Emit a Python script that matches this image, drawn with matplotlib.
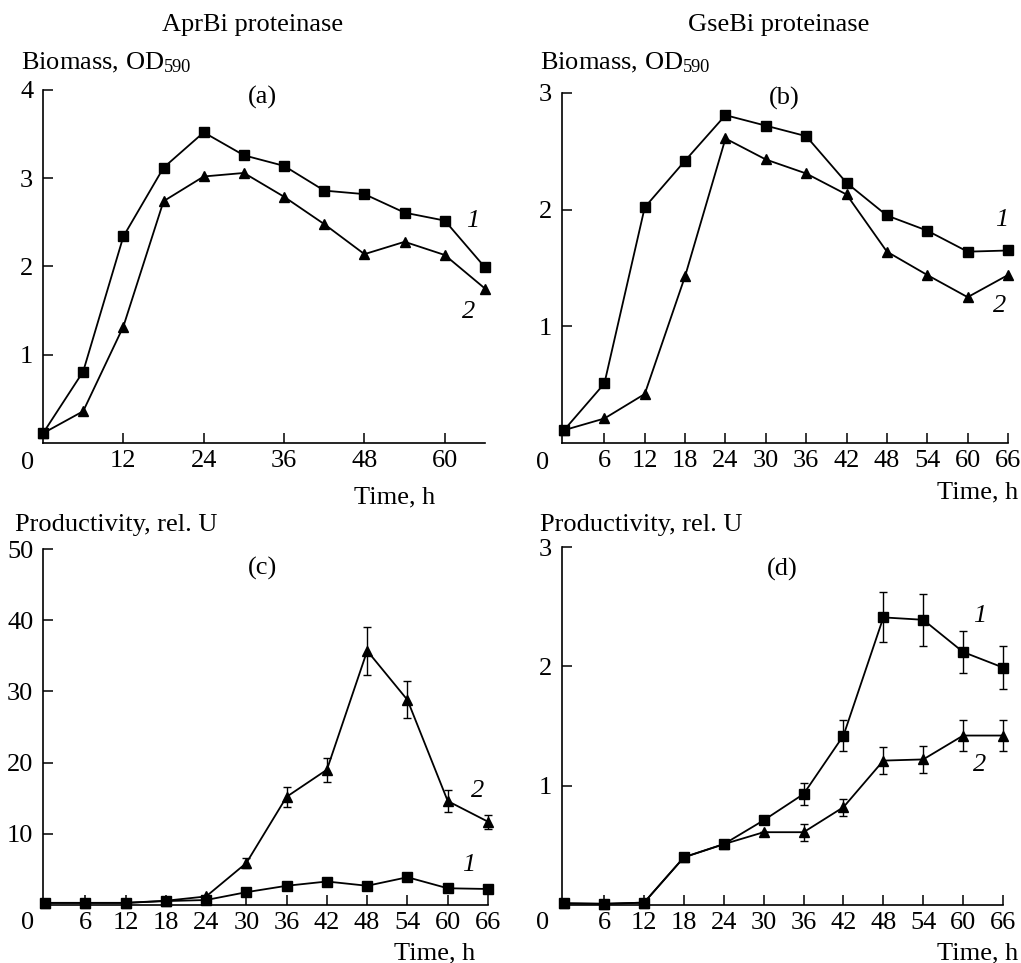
import matplotlib
matplotlib.use("Agg")
import matplotlib.pyplot as plt

plt.rcParams['font.family'] = ['Liberation Serif', 'DejaVu Serif']
plt.rcParams['mathtext.fontset'] = 'custom'
plt.rcParams['mathtext.rm'] = 'Liberation Serif'
plt.rcParams['mathtext.it'] = 'Liberation Serif:italic'

hours = [0, 6, 12, 18, 24, 30, 36, 42, 48, 54, 60, 66]

# (a) AprBi biomass
a_s1 = [0.11, 0.81, 2.34, 3.12, 3.52, 3.26, 3.14, 2.86, 2.82, 2.61, 2.52, 1.99]
a_s2 = [0.11, 0.36, 1.32, 2.74, 3.02, 3.06, 2.79, 2.48, 2.14, 2.28, 2.13, 1.75]
# (b) GseBi biomass
b_s1 = [0.11, 0.51, 2.02, 2.42, 2.81, 2.72, 2.63, 2.23, 1.95, 1.82, 1.64, 1.65]
b_s2 = [0.11, 0.21, 0.42, 1.43, 2.61, 2.43, 2.31, 2.13, 1.64, 1.44, 1.25, 1.44]
# (c) AprBi productivity
c_s1 = [0.3, 0.3, 0.3, 0.55, 0.7, 1.8, 2.7, 3.3, 2.7, 3.9, 2.35, 2.25]
c_s2 = [0.3, 0.3, 0.3, 0.6, 1.2, 5.9, 15.2, 19.0, 35.7, 28.8, 14.6, 11.7]
c_e2 = [0, 0, 0, 0, 0, 0.7, 1.4, 1.7, 3.4, 2.6, 1.5, 1.0]
# (d) GseBi productivity
d_s1 = [0.014, 0.01, 0.02, 0.40, 0.51, 0.71, 0.93, 1.42, 2.41, 2.39, 2.12, 1.99]
d_e1 = [0, 0, 0, 0, 0, 0, 0.09, 0.13, 0.21, 0.22, 0.18, 0.18]
d_s2 = [0.014, 0.01, 0.02, 0.40, 0.51, 0.61, 0.61, 0.82, 1.21, 1.22, 1.42, 1.42]
d_e2 = [0, 0, 0, 0, 0, 0, 0.07, 0.07, 0.11, 0.11, 0.13, 0.13]

FS = 19
fig = plt.figure(figsize=(10.21, 9.63), dpi=100)

W, H = 1021, 963
def rect(l, t, r, b):
    return [l / W, (H - b) / H, (r - l) / W, (b - t) / H]

axa = fig.add_axes(rect(43, 90, 485, 443))
axb = fig.add_axes(rect(562, 93, 1008, 443))
axc = fig.add_axes(rect(43, 549, 488, 905))
axd = fig.add_axes(rect(562, 547, 1003, 905))

def style(ax, xlim, ylim, xticks, yticks):
    ax.set_xlim(*xlim)
    ax.set_ylim(*ylim)
    for s in ['top', 'right']:
        ax.spines[s].set_visible(False)
    for s in ['left', 'bottom']:
        ax.spines[s].set_linewidth(1.2)
    ax.set_xticks(xticks)
    ax.set_yticks(yticks)
    ax.tick_params(direction='in', length=7, width=1.1, labelsize=FS)
    ax.tick_params(axis='x', pad=5)
    ax.tick_params(axis='y', pad=7)

def plot_series(ax, y, marker, err=None, ms=7.5):
    if err is None:
        ax.plot(hours, y, color='black', lw=1.3, marker=marker, ms=ms, clip_on=False, zorder=3)
    else:
        ax.errorbar(hours, y, yerr=err, color='black', lw=1.3, marker=marker, ms=ms,
                    capsize=3, elinewidth=1.0, capthick=1.0, clip_on=False, zorder=3)

def lab(ax, x, y, s, italic=False):
    ax.text(x, y, s, fontsize=FS, style='italic' if italic else 'normal',
            ha='center', va='center')

# (a)
plot_series(axa, a_s1, 's')
plot_series(axa, a_s2, '^')
style(axa, (0, 66), (0, 4), [12, 24, 36, 48, 60], [1, 2, 3, 4])
lab(axa, 32.8, 3.92, '(a)')
lab(axa, 64.1, 2.52, '1', True)
lab(axa, 63.6, 1.48, '2', True)

# (b)
plot_series(axb, b_s1, 's')
plot_series(axb, b_s2, '^')
style(axb, (-0.3, 66), (0, 3), hours[1:], [1, 2, 3])
lab(axb, 32.7, 2.95, '(b)')
lab(axb, 65.0, 1.91, '1', True)
lab(axb, 64.8, 1.17, '2', True)

# (c)
plot_series(axc, c_s1, 's')
plot_series(axc, c_s2, '^', err=c_e2)
style(axc, (-0.3, 66), (0, 50), hours[1:], [10, 20, 30, 40, 50])
lab(axc, 32.4, 47.2, '(c)')
lab(axc, 63.1, 5.6, '1', True)
lab(axc, 64.4, 16.0, '2', True)

# (d)
plot_series(axd, d_s1, 's', err=d_e1)
plot_series(axd, d_s2, '^', err=d_e2)
style(axd, (-0.35, 66), (0, 3), hours[1:], [1, 2, 3])
lab(axd, 32.8, 2.81, '(d)')
lab(axd, 62.5, 2.42, '1', True)
lab(axd, 62.5, 1.17, '2', True)

def ftext(x, y, s, **kw):
    fig.text(x / W, 1 - y / H, s, fontsize=FS, **kw)

ftext(253, 25, 'AprBi proteinase', ha='center', va='center')
ftext(779, 25, 'GseBi proteinase', ha='center', va='center')
ftext(21, 63, 'Biomass, OD$_{590}$', ha='left', va='center')
ftext(540, 63, 'Biomass, OD$_{590}$', ha='left', va='center')
ftext(15, 525, 'Productivity, rel. U', ha='left', va='center')
ftext(540, 525, 'Productivity, rel. U', ha='left', va='center')
ftext(28, 463, '0', ha='center', va='center')
ftext(543, 463, '0', ha='center', va='center')
ftext(28, 923, '0', ha='center', va='center')
ftext(543, 923, '0', ha='center', va='center')
ftext(395, 497, 'Time, h', ha='center', va='center')
ftext(1018, 492, 'Time, h', ha='right', va='center')
ftext(435, 953, 'Time, h', ha='center', va='center')
ftext(1018, 953, 'Time, h', ha='right', va='center')

fig.savefig('out.png', dpi=100)
